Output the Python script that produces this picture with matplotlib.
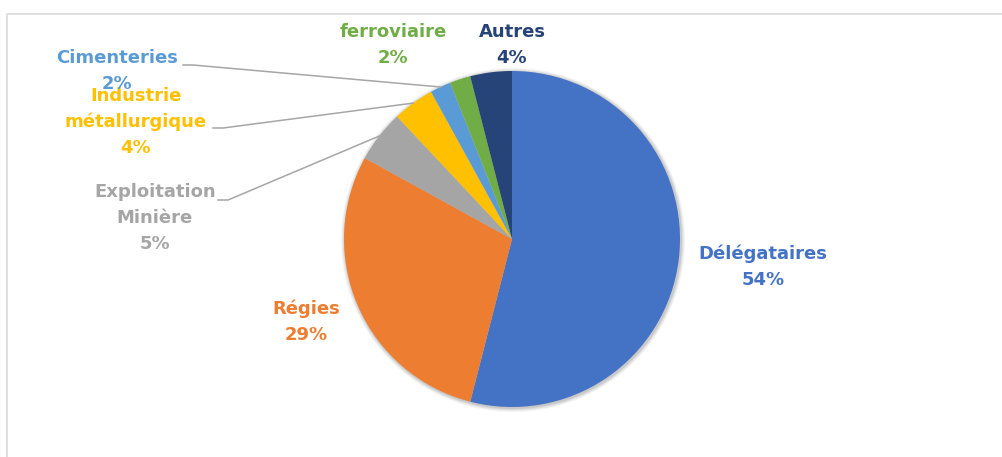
import numpy as np
import matplotlib.pyplot as plt
from matplotlib.patches import Circle

# data
labels = ['Délégataires', 'Régies', 'Exploitation\nMinière', 'Industrie\nmétallurgique',
          'Cimenteries', 'ferroviaire', 'Autres']
values = [54, 29, 5, 4, 2, 2, 4]
colors = ['#4472C4', '#ED7D31', '#A5A5A5', '#FFC000', '#5B9BD5', '#70AD47', '#264478']

W, H = 1003, 457
cx, cy, R = 512, 239, 168

# label centres (pixel coords, top-left origin) and leader line start (None = no leader)
lab_pos = [(763, 267), (306, 322), (155, 218), (136, 122), (117, 71), (393, 45), (512, 45)]
leader_from = [None, None, (218, 200), (213, 128), (183, 65), None, None]

fig = plt.figure(figsize=(W / 100, H / 100), dpi=100)
ax = fig.add_axes([0, 0, 1, 1])
ax.set_xlim(0, W)
ax.set_ylim(0, H)
ax.set_aspect('equal')
ax.axis('off')

def py(y):
    return H - y

# chart border (light grey, runs off the right and bottom)
ax.plot([7, 7, W + 5], [py(H + 5), py(14), py(14)], color='#D9D9D9', lw=1.2, clip_on=False)

# soft shadow
for k, a in [(4, 0.04), (3, 0.05), (2, 0.06), (1, 0.08)]:
    ax.add_patch(Circle((cx + 1, py(cy + 1)), R + k, color='black', alpha=a, lw=0))

wedges, _ = ax.pie(values, colors=colors, startangle=90, counterclock=False,
                   center=(cx, py(cy)), radius=R, frame=True,
                   wedgeprops=dict(linewidth=0))
ax.set_xlim(0, W)
ax.set_ylim(0, H)
ax.axis('off')

for w, lab, v, col, pos, lf in zip(wedges, labels, values, colors, lab_pos, leader_from):
    ax.text(pos[0], py(pos[1]), f'{lab}\n{v}%', ha='center', va='center', color=col,
            fontsize=13, fontweight='bold', family='DejaVu Sans', linespacing=1.55)
    if lf is not None:
        mid = np.deg2rad((w.theta1 + w.theta2) / 2)
        ex, ey = cx + R * np.cos(mid), py(cy) + R * np.sin(mid)
        ax.plot([lf[0], lf[0] + 10, ex], [py(lf[1]), py(lf[1]), ey], color='#A6A6A6', lw=1.1)

fig.savefig('out.png', dpi=100, facecolor='white')
